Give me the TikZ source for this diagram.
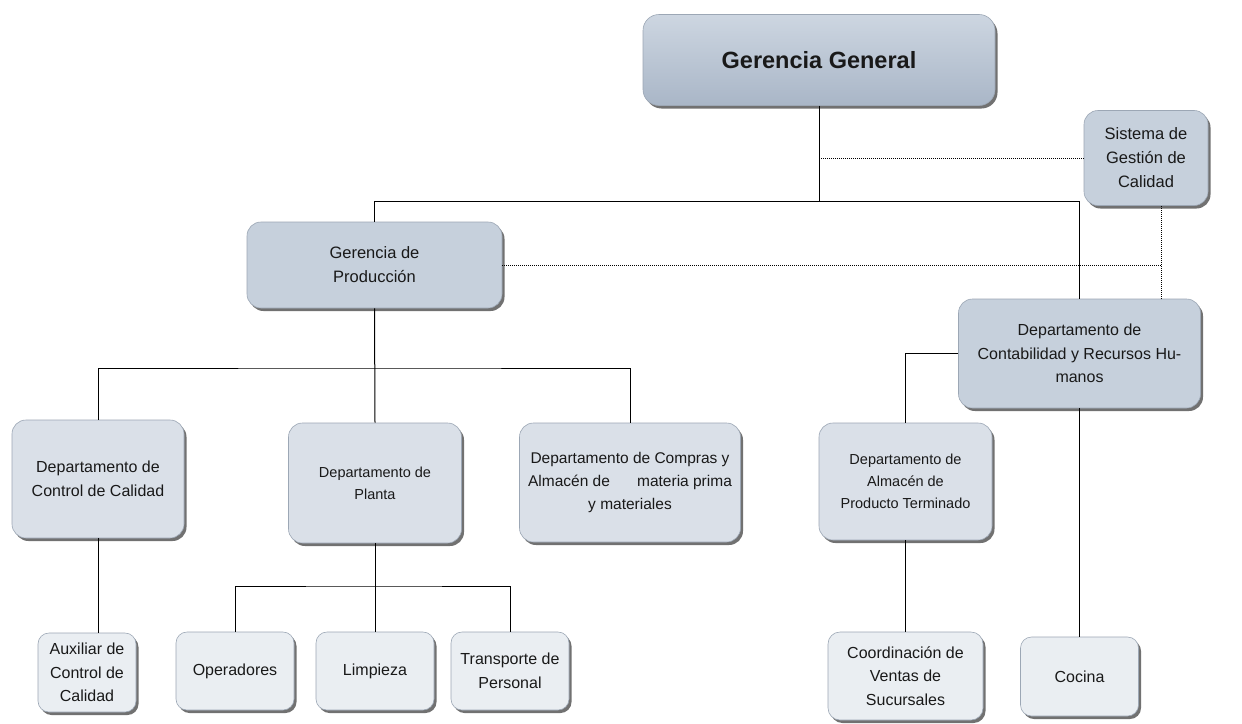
\documentclass[tikz,border=0pt]{standalone}
\usepackage{fontspec}
\setmainfont{Liberation Sans}
\usetikzlibrary{shadows}
\definecolor{ggtop}{HTML}{CDD6E1}
\definecolor{ggbot}{HTML}{A9B6C7}
\definecolor{lvtwo}{HTML}{C6D0DC}
\definecolor{lvthree}{HTML}{DAE0E8}
\definecolor{lvfour}{HTML}{EAEEF2}
\definecolor{boxline}{HTML}{9CA7B5}
\tikzset{
  box/.style={rounded corners=14pt, draw=boxline, line width=0.6pt, align=center,
    inner sep=2pt, text=black!90,
    drop shadow={shadow xshift=2.5pt, shadow yshift=-3pt, fill=black!65, opacity=0.85},
    font=\fontsize{16}{23.5}\selectfont},
  bsmall/.style={font=\fontsize{14.5}{22}\selectfont},
  conn/.style={draw=black, line width=1pt},
  dotline/.style={draw=black, line width=1pt, dash pattern=on 1pt off 1pt}
}
\begin{document}
\begin{tikzpicture}[x=1pt,y=-1pt]
\useasboundingbox (0,0) rectangle (1242,723);
\fill[white] (0,0) rectangle (1242,723);
% level 1
\node[box, top color=ggtop, bottom color=ggbot, minimum width=352pt, minimum height=91pt,
      font=\fontsize{23.5}{28}\selectfont\bfseries, rounded corners=16pt] (gg) at (819,60) {Gerencia General};
% level 2
\node[box, fill=lvtwo, minimum width=124pt, minimum height=95pt, font=\fontsize{16.5}{24}\selectfont] (sgc) at (1146,158) {Sistema de\\Gestión de\\Calidad};
\node[box, fill=lvtwo, minimum width=255pt, minimum height=86pt, font=\fontsize{16.5}{24}\selectfont] (gp) at (374.5,265) {Gerencia de\\Producción};
\node[box, fill=lvtwo, minimum width=242pt, minimum height=109pt] (dcrh) at (1079.5,353.5) {Departamento de\\Contabilidad y Recursos Hu-\\manos};
% level 3
\node[box, fill=lvthree, minimum width=172pt, minimum height=118pt] (dcc) at (98,479) {Departamento de\\Control de Calidad};
\node[box, fill=lvthree, minimum width=173pt, minimum height=120pt, bsmall] (dp) at (375,483) {Departamento de\\Planta};
\node[box, fill=lvthree, minimum width=221pt, minimum height=119pt, font=\fontsize{15.5}{23}\selectfont] (dcom) at (630,482.5) {Departamento de Compras y\\Almacén de \hspace{1.2em} materia prima\\y materiales};
\node[box, fill=lvthree, minimum width=173pt, minimum height=117pt, bsmall] (dapt) at (905.5,481.5) {Departamento de\\Almacén de\\Producto Terminado};
% level 4
\node[box, fill=lvfour, minimum width=98pt, minimum height=79pt, rounded corners=11pt] (aux) at (87,672.5) {Auxiliar de\\Control de\\Calidad};
\node[box, fill=lvfour, minimum width=118pt, minimum height=78pt, rounded corners=11pt] (ope) at (235,671) {Operadores};
\node[box, fill=lvfour, minimum width=118pt, minimum height=78pt, rounded corners=11pt] (lim) at (375,671) {Limpieza};
\node[box, fill=lvfour, minimum width=118pt, minimum height=78pt, rounded corners=11pt] (tra) at (510,671) {Transporte de\\Personal};
\node[box, fill=lvfour, minimum width=155pt, minimum height=88pt, rounded corners=12pt] (cvs) at (905.5,676) {Coordinación de\\Ventas de\\Sucursales};
\node[box, fill=lvfour, minimum width=118pt, minimum height=79pt, rounded corners=11pt] (coc) at (1079.5,676.5) {Cocina};
% junction coordinates
\coordinate (j1) at (819,201);
\coordinate (j2) at (375,368);
\coordinate (j3) at (375,586);
\coordinate (d1) at (1161,206);
\coordinate (d2) at (1161,299);
% solid connectors
\draw[conn] (gg.south) -- (j1);
\draw[conn] (j1) -| (gp.north);
\draw[conn] (j1) -| (dcrh.north);
\draw[conn] (gp.south) -- (dp.north);
\draw[conn] (dcc.north) |- (j2) -| (dcom.north);
\draw[conn] (dcc.south) -- (dcc.south |- aux.north);
\draw[conn] (dp.south) -- (lim.north);
\draw[conn] (ope.north) |- (j3) -| (tra.north);
\draw[conn] (dcrh.west) -| (dapt.north);
\draw[conn] (dapt.south) -- (cvs.north);
\draw[conn] (dcrh.south) -- (coc.north);
% dotted connectors
\draw[dotline] (gg.south |- sgc.west) -- (sgc.west);
\draw[dotline] (d1) -- (d2);
\draw[dotline] (gp.east) -- (gp.east -| d1);
\end{tikzpicture}
\end{document}
